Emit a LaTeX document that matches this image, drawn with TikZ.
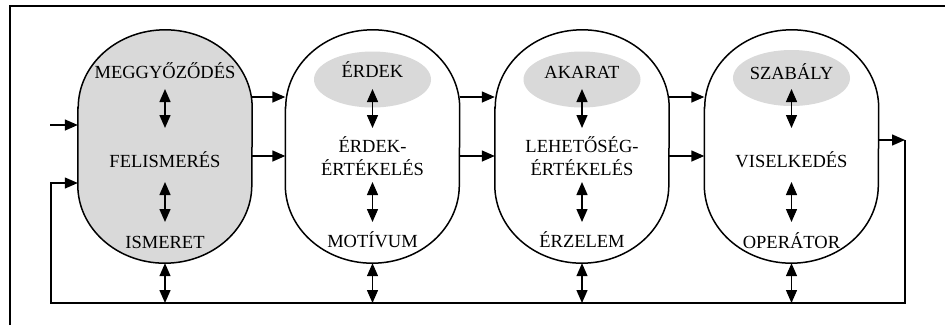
\documentclass[tikz,border=0pt]{standalone}
\usepackage{fontspec}
\setmainfont{Liberation Serif}
\usetikzlibrary{arrows.meta,shapes.geometric}

% outline of a pill-shaped stage: straight sides, elliptic top and bottom
\newcommand\stageoutline[2]{%
  \path[draw, line width=1.5pt, fill=#2]
    ([yshift=-78pt]#1.north west) -- ([yshift=78pt]#1.south west)
    arc[start angle=180, end angle=360, x radius=87pt, y radius=78pt]
    -- ([yshift=-78pt]#1.north east)
    arc[start angle=0, end angle=180, x radius=87pt, y radius=78pt]
    -- cycle;}

\begin{document}
\begin{tikzpicture}[x=1pt, y=1pt,
  stage/.style={minimum width=174pt, minimum height=233pt, inner sep=0pt, draw=none},
  lbl/.style={anchor=base, inner sep=0pt, font=\fontsize{18.5}{22}\selectfont},
  blob/.style={ellipse, fill=black!15, draw=none, minimum width=117pt, minimum height=56pt, inner sep=0pt},
  arr/.style={line width=1.4pt, -{Triangle[length=13pt, width=11pt]}},
  darr/.style={line width=1.4pt, {Triangle[length=13pt, width=11pt]}-{Triangle[length=13pt, width=11pt]}},
  frame/.style={line width=1.2pt}]

\useasboundingbox (0,0) rectangle (945,-325);

% outer frame (runs off the page at the right and bottom)
\draw[frame] (10,-325) -- (10,-6) -- (945,-6);

% the four stages
\foreach \i/\x in {1/165, 2/372.5, 3/582, 4/791.5} {
  \node[stage] (s\i) at (\x,-146.5) {};
  \coordinate (a\i) at (\x,-89);
  \coordinate (b\i) at (\x,-128);
  \coordinate (c\i) at (\x,-182);
  \coordinate (d\i) at (\x,-222);
  \coordinate (bus\i) at (\x,-303);
}
\stageoutline{s1}{black!15}
\stageoutline{s2}{white}
\stageoutline{s3}{white}
\stageoutline{s4}{white}

% shaded heads of stages 2-4
\node[blob] (e2) at (372.5,-79.5) {};
\node[blob] (e3) at (582,-79.5) {};
\node[blob] (e4) at (791.5,-78) {};

% labels
\node[lbl] (t11) at (165,-78) {MEGGYŐZŐDÉS};
\node[lbl] (t12) at (165,-167) {FELISMERÉS};
\node[lbl] (t13) at (165,-248) {ISMERET};

\node[lbl] (t21) at (372.5,-77) {ÉRDEK};
\node[lbl] (t22) at (372.5,-152) {ÉRDEK-};
\node[lbl] (t23) at (372.5,-175) {ÉRTÉKELÉS};
\node[lbl] (t24) at (372.5,-247) {MOTÍVUM};

\node[lbl] (t31) at (582,-78) {AKARAT};
\node[lbl] (t32) at (582,-152) {LEHETŐSÉG-};
\node[lbl] (t33) at (582,-175) {ÉRTÉKELÉS};
\node[lbl] (t34) at (582,-247) {ÉRZELEM};

\node[lbl] (t41) at (791.5,-79) {SZABÁLY};
\node[lbl] (t42) at (791.5,-167) {VISELKEDÉS};
\node[lbl] (t43) at (791.5,-248) {OPERÁTOR};

% two-way links inside each stage and down to the return line
\foreach \i in {1,2,3,4} {
  \draw[darr] (a\i) -- (b\i);
  \draw[darr] (c\i) -- (d\i);
  \draw[darr] (s\i.south) -- (bus\i);
}

% forward links between stages
\coordinate (r1) at (0,-97);
\coordinate (r2) at (0,-156);
\draw[arr] (s1.east |- r1) -- (s2.west |- r1);
\draw[arr] (s1.east |- r2) -- (s2.west |- r2);
\draw[arr] (s2.east |- r1) -- (s3.west |- r1);
\draw[arr] (s2.east |- r2) -- (s3.west |- r2);
\draw[arr] (s3.east |- r1) -- (s4.west |- r1);
\draw[arr] (s3.east |- r2) -- (s4.west |- r2);

% input and feedback loop
\coordinate (in) at (50,-125);
\coordinate (fbR) at (905,-140);
\coordinate (fbRB) at (905,-303);
\coordinate (fbLB) at (51,-303);
\coordinate (fbL) at (51,-183);
\draw[arr] (in) -- (s1.west |- in);
\draw[arr] (s4.east |- fbR) -- (fbR);
\draw[arr, line width=1.2pt] (fbR) -- (fbRB) -- (fbLB) -- (fbL) -- (s1.west |- fbL);

\end{tikzpicture}
\end{document}
